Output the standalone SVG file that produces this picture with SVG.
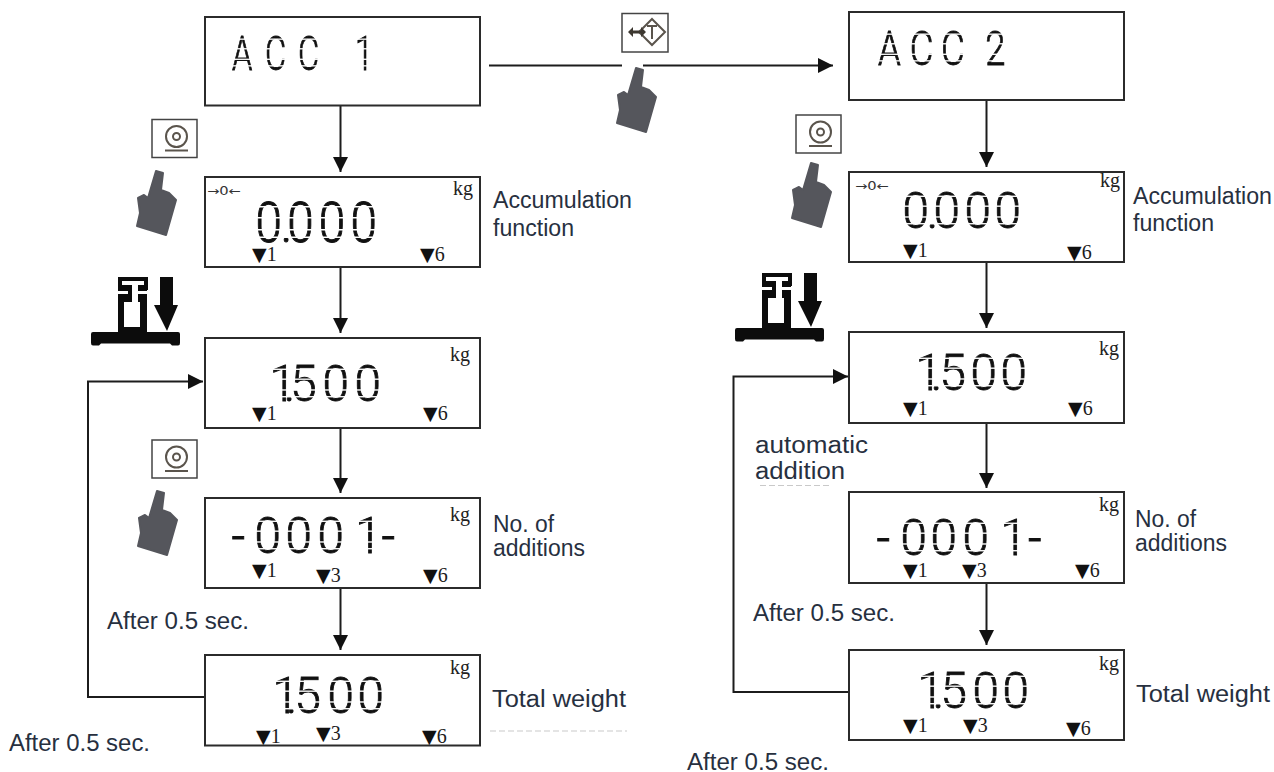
<svg xmlns="http://www.w3.org/2000/svg" width="1274" height="772" viewBox="0 0 1274 772">
<style>
.box{fill:#fff;stroke:#2b2b2b;stroke-width:2}
.lcd{font-family:Roboto,"Liberation Sans",sans-serif;font-weight:300;font-size:56px;fill:#111;stroke:#111;stroke-width:1;mask:url(#seg)}
.kg{font-family:"Liberation Serif",serif;font-size:20px;fill:#222}
.mk{font-family:"Liberation Serif",serif;font-size:20px;fill:#1c1c1c}
.tri{font-family:"DejaVu Sans",sans-serif;font-size:19px;fill:#111}
.z{font-family:"DejaVu Sans",sans-serif;font-size:12px;fill:#333}
.lb{font-family:"Liberation Sans",Arial,sans-serif;font-size:23px;fill:#27303f}
.c{fill:none;stroke:#1c1c1c;stroke-width:2}
.key{fill:#fff;stroke:#444;stroke-width:1.5}
.ic{fill:none;stroke:#5a544c;stroke-width:2}
.hand{fill:#55565c;stroke:#55565c;stroke-width:2;stroke-linejoin:round}
.faint{stroke:#c9c9c9;stroke-width:1;stroke-dasharray:6 3;fill:none}
</style>
<defs>
<marker id="ah" markerUnits="userSpaceOnUse" markerWidth="16" markerHeight="16" refX="15" refY="8" orient="auto"><path d="M0 0.5L15 8L0 15.500Z" fill="#111"/></marker>
<mask id="seg" maskUnits="userSpaceOnUse" maskContentUnits="userSpaceOnUse" x="-40" y="-60" width="320" height="80">
<rect x="-40" y="-60" width="320" height="80" fill="#fff"/>
<rect x="-40" y="-36" width="320" height="1.500" fill="#000"/>
<rect x="-40" y="-25" width="320" height="1.500" fill="#000"/>
<rect x="-40" y="-13" width="320" height="1.500" fill="#000"/>
<rect x="-40" y="-5.500" width="320" height="1.500" fill="#000"/>
</mask>
<polygon id="handShape" class="hand" points="20,1 27,3 25,20 33,23 40,30 30,65 1,56 4,43 2,28 8,25 12,28"/>
<g id="zeroKey">
<rect class="key" x="0" y="0" width="45" height="38"/>
<circle class="ic" cx="24.500" cy="17" r="10.500"/>
<circle class="ic" cx="24.500" cy="17" r="3.500"/>
<path class="ic" d="M13 31H36" stroke-width="2.500"/>
</g>
<g id="scale">
<path d="M93 332H178Q180 332 180 334V343Q180 345.500 178 345.500H172L170 343.500H101L99 345.500H93Q91 345.500 91 343V334Q91 332 93 332Z" fill="#0c0c0c"/>
<path d="M118 277H148V290H147V333H118V294H118Z" fill="#0c0c0c"/>
<path d="M122 281H144V285H138V302H140V327H124V302H132V285H122Z" fill="#fff"/>
<path d="M118 291H128V294H118ZM138 291H148V294H138Z" fill="#fff"/>
<path d="M160 277H173V305H178L167 331L154 305H160Z" fill="#0c0c0c"/>
</g>
</defs>

<g id="connectors">
<path class="c" d="M489 65.500H622M643 65.500H833" marker-end="url(#ah)"/>
<path class="c" d="M340.500 105V172" marker-end="url(#ah)"/>
<path class="c" d="M340.500 267V333" marker-end="url(#ah)"/>
<path class="c" d="M340.500 428V493" marker-end="url(#ah)"/>
<path class="c" d="M340.500 588V650" marker-end="url(#ah)"/>
<path class="c" d="M204 697H88V381.500H203" marker-end="url(#ah)"/>
<path class="c" d="M986.500 100V167" marker-end="url(#ah)"/>
<path class="c" d="M986.500 262V328" marker-end="url(#ah)"/>
<path class="c" d="M986.500 423V488" marker-end="url(#ah)"/>
<path class="c" d="M986.500 583V645" marker-end="url(#ah)"/>
<path class="c" d="M849 692H733.500V376.500H848" marker-end="url(#ah)"/>
</g>

<g id="node-acc1"><rect class="box" x="205" y="17" width="275" height="88.500"/>
<text class="lcd" transform="translate(232 70) scale(.58 .875)" x="0 57 114 170 212">ACC 1</text></g>

<g id="node-l2"><rect class="box" x="205" y="177" width="275" height="90"/>
<text class="z" x="207" y="195" textLength="34" lengthAdjust="spacingAndGlyphs">→0←</text><text class="kg" x="453" y="195">kg</text>
<text class="lcd" transform="translate(258 242) scale(.85 1)" x="-3 26.700 34.300 71.600 108.900">0.000</text>
<text class="mk" x="252" y="261"><tspan class="tri">▼</tspan>1</text><text class="mk" x="420" y="261"><tspan class="tri">▼</tspan>6</text></g>

<g id="node-l3"><rect class="box" x="205" y="338" width="275" height="90"/>
<text class="kg" x="450" y="361">kg</text>
<text class="lcd" transform="translate(281 401) scale(.85 .9)" x="-13.500 3.200 11 48.800 86.400">1.500</text>
<text class="mk" x="252" y="420"><tspan class="tri">▼</tspan>1</text><text class="mk" x="423" y="420"><tspan class="tri">▼</tspan>6</text></g>

<g id="node-l4"><rect class="box" x="205" y="498" width="275" height="90"/>
<text class="kg" x="450" y="521">kg</text>
<text class="lcd" transform="translate(232 553) scale(.85 .9)" x="-.5 26.400 62.900 100.500 145 176">-0001-</text>
<text class="mk" x="252" y="577"><tspan class="tri">▼</tspan>1</text><text class="mk" x="316" y="582"><tspan class="tri">▼</tspan>3</text><text class="mk" x="423" y="582"><tspan class="tri">▼</tspan>6</text></g>

<g id="node-l5"><rect class="box" x="205" y="655" width="275" height="90.500"/>
<text class="kg" x="450" y="674">kg</text>
<text class="lcd" transform="translate(287 713) scale(.85 .9)" x="-17 -1.500 8.800 47.600 82.900">1.500</text>
<text class="mk" x="256" y="743"><tspan class="tri">▼</tspan>1</text><text class="mk" x="316" y="740"><tspan class="tri">▼</tspan>3</text><text class="mk" x="422" y="743"><tspan class="tri">▼</tspan>6</text></g>

<g id="node-acc2"><rect class="box" x="849" y="12" width="275" height="88"/>
<text class="lcd" transform="translate(878 65) scale(.65 .875)" x="0 49 97 140 165">ACC 2</text></g>

<g id="node-r2"><rect class="box" x="849" y="172" width="275" height="90"/>
<text class="z" x="855" y="190" textLength="34" lengthAdjust="spacingAndGlyphs">→0←</text><text class="kg" x="1100" y="187">kg</text>
<text class="lcd" transform="translate(905 228) scale(.85 .9)" x="-3 25.500 33.500 69.900 105.200">0.000</text>
<text class="mk" x="903" y="257"><tspan class="tri">▼</tspan>1</text><text class="mk" x="1067" y="259"><tspan class="tri">▼</tspan>6</text></g>

<g id="node-r3"><rect class="box" x="849" y="332" width="275" height="91"/>
<text class="kg" x="1099" y="355">kg</text>
<text class="lcd" transform="translate(930 390) scale(.85 .9)" x="-17 .8 11.100 47.600 82.900">1.500</text>
<text class="mk" x="903" y="415"><tspan class="tri">▼</tspan>1</text><text class="mk" x="1068" y="415"><tspan class="tri">▼</tspan>6</text></g>

<g id="node-r4"><rect class="box" x="849" y="492" width="275" height="91"/>
<text class="kg" x="1099" y="511">kg</text>
<text class="lcd" transform="translate(877 555) scale(.85 .9)" x="-.5 27.600 62.900 100.500 145.400 177.600">-0001-</text>
<text class="mk" x="903" y="577"><tspan class="tri">▼</tspan>1</text><text class="mk" x="962" y="577"><tspan class="tri">▼</tspan>3</text><text class="mk" x="1075" y="577"><tspan class="tri">▼</tspan>6</text></g>

<g id="node-r5"><rect class="box" x="849" y="650" width="275" height="90"/>
<text class="kg" x="1099" y="670">kg</text>
<text class="lcd" transform="translate(932 708) scale(.85 .9)" x="-17 .8 9.900 47.600 82.900">1.500</text>
<text class="mk" x="903" y="732"><tspan class="tri">▼</tspan>1</text><text class="mk" x="963" y="732"><tspan class="tri">▼</tspan>3</text><text class="mk" x="1066" y="735"><tspan class="tri">▼</tspan>6</text></g>

<g id="icons">
<use href="#zeroKey" x="152" y="119.500"/>
<use href="#handShape" x="136" y="170"/>
<use href="#scale"/>
<use href="#zeroKey" x="152" y="440"/>
<use href="#handShape" x="137" y="490"/>
<use href="#zeroKey" x="796" y="115"/>
<use href="#handShape" x="791" y="162"/>
<use href="#scale" x="644" y="-4"/>
<g id="tareKey">
<rect class="key" x="622" y="13.500" width="46" height="38.500"/>
<path class="ic" d="M652 19L665 32L652 45L639 32Z"/>
<path class="ic" d="M647 26H657M652 26V39" stroke-width="1.500"/>
<path d="M628 32L633 27V30.500H641V27L646 32L641 37V33.500H633V37Z" fill="#3c3730"/>
</g>
<use href="#handShape" x="616" y="67"/>
</g>

<g id="labels">
<text class="lb" x="493" y="208" textLength="139" lengthAdjust="spacingAndGlyphs">Accumulation</text>
<text class="lb" x="493" y="236" textLength="81" lengthAdjust="spacingAndGlyphs">function</text>
<text class="lb" x="493" y="532" textLength="61" lengthAdjust="spacingAndGlyphs">No. of</text>
<text class="lb" x="493" y="556" textLength="92" lengthAdjust="spacingAndGlyphs">additions</text>
<text class="lb" x="492" y="707" textLength="134" lengthAdjust="spacingAndGlyphs">Total weight</text>
<text class="lb" x="107" y="629" textLength="142" lengthAdjust="spacingAndGlyphs">After 0.5 sec.</text>
<text class="lb" x="9" y="751" textLength="141" lengthAdjust="spacingAndGlyphs">After 0.5 sec.</text>
<text class="lb" x="1133" y="204" textLength="139" lengthAdjust="spacingAndGlyphs">Accumulation</text>
<text class="lb" x="1133" y="231" textLength="81" lengthAdjust="spacingAndGlyphs">function</text>
<text class="lb" x="1135" y="527" textLength="61" lengthAdjust="spacingAndGlyphs">No. of</text>
<text class="lb" x="1135" y="551" textLength="92" lengthAdjust="spacingAndGlyphs">additions</text>
<text class="lb" x="1136" y="702" textLength="134" lengthAdjust="spacingAndGlyphs">Total weight</text>
<text class="lb" x="753" y="621" textLength="142" lengthAdjust="spacingAndGlyphs">After 0.5 sec.</text>
<text class="lb" x="687" y="770" textLength="142" lengthAdjust="spacingAndGlyphs">After 0.5 sec.</text>
<text class="lb" x="755" y="453" textLength="113" lengthAdjust="spacingAndGlyphs">automatic</text>
<text class="lb" x="755" y="479" textLength="90" lengthAdjust="spacingAndGlyphs">addition</text>
<path class="faint" d="M490 731H627"/>
<path class="faint" d="M760 485.500H830"/>
</g>
</svg>
